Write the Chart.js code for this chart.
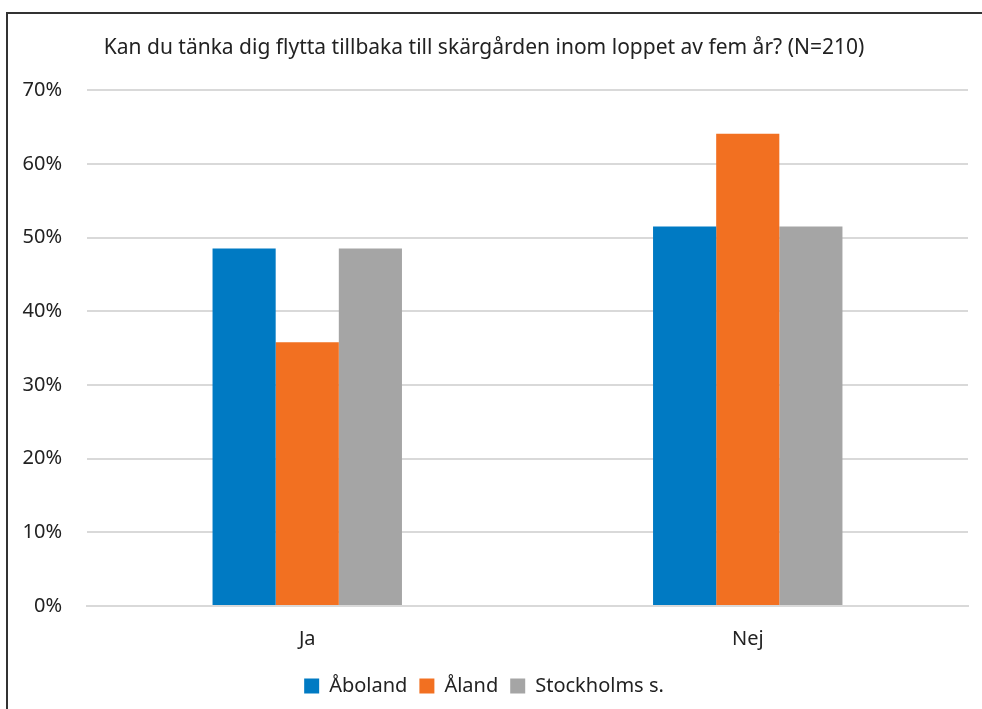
<!DOCTYPE html>
<html>
<head>
<meta charset="utf-8">
<script src="https://cdn.jsdelivr.net/npm/chart.js@4.4.0/dist/chart.umd.min.js"></script>
<style>
  html, body { margin: 0; padding: 0; background: #fff; }
  #wrap { position: relative; width: 982px; height: 709px; }
  #frame {
    position: absolute; left: 6px; top: 12px; width: 990px; height: 720px;
    border-top: 2px solid #333; border-left: 2px solid #333;
    pointer-events: none;
  }
</style>
</head>
<body>
<div id="wrap">
  <canvas id="myChart" width="982" height="709"></canvas>
  <div id="frame"></div>
</div>
<script>
const categories = ["Ja", "Nej"];
const seriesNames = ["Åboland", "Åland", "Stockholms s."];
const aboland = [48.5, 51.5];
const aland = [35.8, 64.1];
const stockholm = [48.5, 51.5];
const colors = ["#007AC3", "#F27021", "#A5A5A5"];
const yTicks = [0, 10, 20, 30, 40, 50, 60, 70];

const font = "'Noto Sans', 'Open Sans', sans-serif";
const ctx = document.getElementById("myChart");

// build the datasets from the arrays above
const values = [aboland, aland, stockholm];
const datasets = seriesNames.map((name, i) => ({
  label: name,
  data: values[i],
  backgroundColor: colors[i],
  borderWidth: 0,
  categoryPercentage: 0.43,
  barPercentage: 1.0,
}));

new Chart(ctx, {
  type: "bar",
  data: { labels: categories, datasets },
  options: {
    responsive: false,
    animation: false,
    layout: { padding: { left: 0, right: 14, top: 35, bottom: 3 } },
    plugins: {
      title: {
        display: true,
        text: "Kan du tänka dig flytta tillbaka till skärgården inom loppet av fem år? (N=210)",
        color: "#222",
        font: { family: font, size: 21, weight: "normal" },
        padding: { top: 0, bottom: 30 },
      },
      legend: {
        position: "bottom",
        labels: {
          color: "#222",
          font: { family: font, size: 20 },
          boxWidth: 15,
          boxHeight: 15,
          padding: 12,
        },
      },
      tooltip: { enabled: false },
    },
    scales: {
      x: {
        grid: { display: false },
        border: { color: "#d9d9d9", width: 2 },
        ticks: { color: "#222", font: { family: font, size: 20 }, padding: 13 },
      },
      y: {
        min: 0,
        max: 70,
        afterBuildTicks: (axis) => { axis.ticks = yTicks.map((v) => ({ value: v })); },
        afterFit: (axis) => { axis.width = 87; },
        grid: { color: "#d9d9d9", lineWidth: 2, drawTicks: false },
        border: { display: false },
        ticks: {
          color: "#222",
          font: { family: font, size: 20 },
          padding: 25,
          callback: (v) => v + "%",
        },
      },
    },
  },
});
</script>
</body>
</html>
